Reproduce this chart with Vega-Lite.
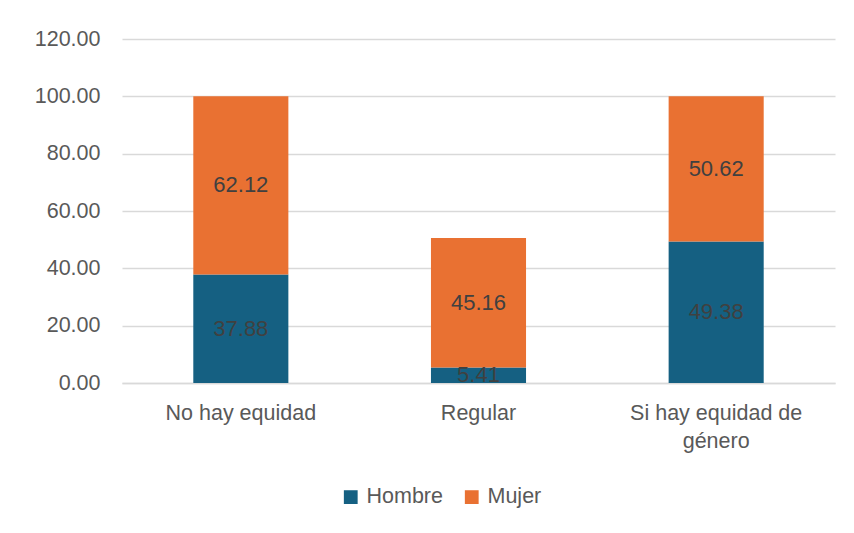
{
  "$schema": "https://vega.github.io/schema/vega-lite/v6.json",
  "autosize": "none",
  "width": 713,
  "height": 344,
  "padding": {"left": 122, "top": 39, "right": 19, "bottom": 150},
  "background": "white",
  "config": {
    "font": "Liberation Sans",
    "view": {"stroke": null},
    "axis": {"labelFont": "Liberation Sans", "labelColor": "#595959", "labelFontSize": 21.5, "ticks": false, "title": null},
    "legend": {"labelFont": "Liberation Sans"}
  },
  "data": {
    "values": [
      {"cat": "No hay equidad", "sexo": "Hombre", "valor": 37.88},
      {"cat": "No hay equidad", "sexo": "Mujer", "valor": 62.12},
      {"cat": "Regular", "sexo": "Hombre", "valor": 5.41},
      {"cat": "Regular", "sexo": "Mujer", "valor": 45.16},
      {"cat": "Si hay equidad de género", "sexo": "Hombre", "valor": 49.38},
      {"cat": "Si hay equidad de género", "sexo": "Mujer", "valor": 50.62}
    ]
  },
  "transform": [
    {"stack": "valor", "groupby": ["cat"], "sort": [{"field": "sexo", "order": "ascending"}], "as": ["v0", "v1"]},
    {"calculate": "(datum.v0 + datum.v1) / 2", "as": "mid"}
  ],
  "encoding": {
    "x": {
      "field": "cat", "type": "nominal", "sort": null,
      "scale": {"paddingInner": 0.6, "paddingOuter": 0.3},
      "axis": {
        "labelAngle": 0, "domain": true, "domainColor": "#d9d9d9", "domainWidth": 1.5,
        "labelPadding": 19, "labelLineHeight": 28, "labelBaseline": "top",
        "labelExpr": "datum.label == 'Si hay equidad de género' ? ['Si hay equidad de', 'género'] : datum.label"
      }
    }
  },
  "layer": [
    {
      "mark": {"type": "bar"},
      "encoding": {
        "y": {
          "field": "v0", "type": "quantitative",
          "scale": {"domain": [0, 120]},
          "axis": {"values": [0, 20, 40, 60, 80, 100, 120], "format": ".2f", "domain": false, "grid": true, "gridColor": "#d9d9d9", "gridWidth": 1.5, "labelPadding": 22}
        },
        "y2": {"field": "v1"},
        "color": {
          "field": "sexo", "type": "nominal",
          "scale": {"domain": ["Hombre", "Mujer"], "range": ["#156082", "#E97132"]},
          "legend": {
            "title": null, "orient": "none", "direction": "horizontal",
            "legendX": 218, "legendY": 447,
            "symbolType": "square", "symbolSize": 190, "symbolStrokeWidth": 0,
            "labelFontSize": 21.5, "labelColor": "#595959", "columnPadding": 18, "labelOffset": 5
          }
        }
      }
    },
    {
      "mark": {"type": "text", "fontSize": 22, "color": "#404040", "clip": true},
      "encoding": {
        "y": {"field": "mid", "type": "quantitative"},
        "text": {"field": "valor", "type": "quantitative", "format": ".2f"}
      }
    }
  ]
}
